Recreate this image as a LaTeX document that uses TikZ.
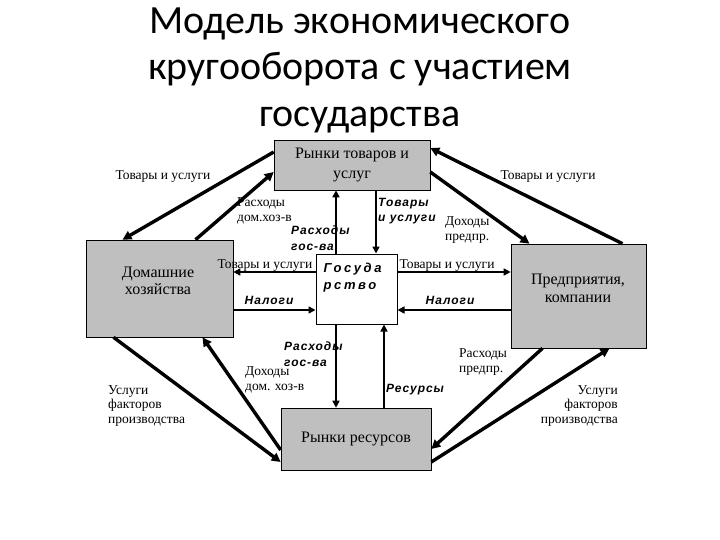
\documentclass[tikz,border=0pt]{standalone}
\usepackage{fontspec}
\setmainfont{Liberation Serif}
\newfontfamily\titlefont{Carlito}
\newfontfamily\boldlab[LetterSpace=8]{Liberation Sans}
\newfontfamily\govlab[LetterSpace=20]{Liberation Sans}
\usetikzlibrary{arrows.meta}

\begin{document}
\begin{tikzpicture}[x=1pt, y=-1pt,
        market/.style={draw, fill=black!25, line width=0.6pt, inner sep=0pt, align=center, font=\fontsize{16}{20}\selectfont},
        agent/.style={draw, fill=black!25, line width=0.6pt, inner sep=0pt},
        boxtext/.style={inner sep=0pt, align=center, font=\fontsize{16}{17.5}\selectfont},
        flow/.style={line width=3.4pt, -{Triangle[length=9pt, width=9pt]}},
        govflow/.style={line width=1.6pt, -{Triangle[length=7pt, width=7pt]}},
        lab/.style={inner sep=0pt, align=left, font=\fontsize{13.5}{14.5}\selectfont},
        blab/.style={inner sep=0pt, align=left, font=\boldlab\bfseries\itshape\fontsize{12}{15.5}\selectfont}]
        \useasboundingbox (0,0) rectangle (720,540);
        % Title
        \node (title) at (360,70) [align=center, font=\titlefont\fontsize{40}{46.5}\selectfont] {Модель экономического\\кругооборота с участием\\государства};
        % Nodes
        \node (goods) at (352,165) [market, minimum width=156pt, minimum height=50pt] {Рынки товаров и\\услуг};
        \node (hh) at (159.5,288.5) [agent, minimum width=147pt, minimum height=97pt] {};
        \node (hhtext) at (158,281) [boxtext] {Домашние\\хозяйства};
        \node (gov) at (356.5,289) [draw, fill=white, line width=1pt, minimum width=81pt, minimum height=70pt] {};
        \node (govtext) at (gov.north west) [anchor=north west, xshift=8pt, yshift=-9pt, inner sep=0pt, align=left, font=\govlab\bfseries\itshape\fontsize{13}{17}\selectfont] {Госуда\\рство};
        \node (firms) at (578.5,296) [agent, minimum width=135pt, minimum height=104pt] {};
        \node (firmstext) at (578,288.5) [boxtext] {Предприятия,\\компании};
        \node (res) at (356,439) [market, minimum width=150pt, minimum height=62pt] {Рынки ресурсов};

        % Edges: households and firms with the markets
        \draw[flow] ([yshift=13pt]goods.west) -- ([xshift=-37pt]hh.north);
        \draw[flow] ([xshift=36pt]hh.north) -- ([yshift=-7pt]goods.west);
        \draw[flow] ([xshift=44pt]firms.north) -- ([yshift=17pt]goods.east);
        \draw[flow] ([yshift=-7pt]goods.east) -- ([xshift=-49pt]firms.north);
        \draw[flow] ([xshift=-46pt]hh.south) -- ([yshift=-23pt]res.west);
        \draw[flow] ([yshift=-11pt]res.west) -- ([xshift=43pt]hh.south);
        \draw[flow] ([xshift=-36pt]firms.south) -- ([yshift=-10pt]res.east);
        \draw[flow] ([yshift=-23pt]res.east) -- ([xshift=31pt]firms.south);

        % Edges: government
        \draw[govflow] ([xshift=-20.5pt]gov.north) -- ([xshift=-20.5pt]gov.north |- goods.south);
        \draw[govflow] ([xshift=19.5pt]gov.north |- goods.south) -- ([xshift=19.5pt]gov.north);
        \draw[govflow] ([yshift=17pt]gov.west) -- ([yshift=17pt]gov.west -| hh.east);
        \draw[govflow] ([yshift=-21pt]gov.west -| hh.east) -- ([yshift=-21pt]gov.west);
        \draw[govflow] ([yshift=17pt]gov.east) -- ([yshift=17pt]gov.east -| firms.west);
        \draw[govflow] ([yshift=-21pt]gov.east -| firms.west) -- ([yshift=-21pt]gov.east);
        \draw[govflow] ([xshift=-20.5pt]gov.south) -- ([xshift=-20.5pt]gov.south |- res.north);
        \draw[govflow] ([xshift=27.5pt]gov.south |- res.north) -- ([xshift=27.5pt]gov.south);

        % Labels
        \node (l1) at (163,177) [lab] {Товары и услуги};
        \node (l2) at (237,211) [lab, anchor=west] {Расходы\\дом.хоз-в};
        \node (l3) at (291,238) [blab, anchor=west] {Расходы\\гос-ва};
        \node (l4) at (378,211) [blab, anchor=west] {Товары\\и услуги};
        \node (l5) at (548,177) [lab] {Товары и услуги};
        \node (l6) at (445,230) [lab, anchor=west] {Доходы\\предпр.};
        \node (l7) at (265,266) [lab] {Товары и услуги};
        \node (l8) at (269,300) [blab] {Налоги};
        \node (l9) at (447,266) [lab] {Товары и услуги};
        \node (l10) at (450,300) [blab] {Налоги};
        \node (l11) at (284,354) [blab, anchor=west] {Расходы\\гос-ва};
        \node (l12) at (245,380) [lab, anchor=west] {Доходы\\дом. хоз-в};
        \node (l13) at (415,390) [blab] {Ресурсы};
        \node (l14) at (459,362) [lab, anchor=west] {Расходы\\предпр.};
        \node (l15) at (108,406) [lab, anchor=west] {Услуги\\факторов\\производства};
        \node (l16) at (618,406) [lab, anchor=east, align=right] {Услуги\\факторов\\производства};
    \end{tikzpicture}
\end{document}
